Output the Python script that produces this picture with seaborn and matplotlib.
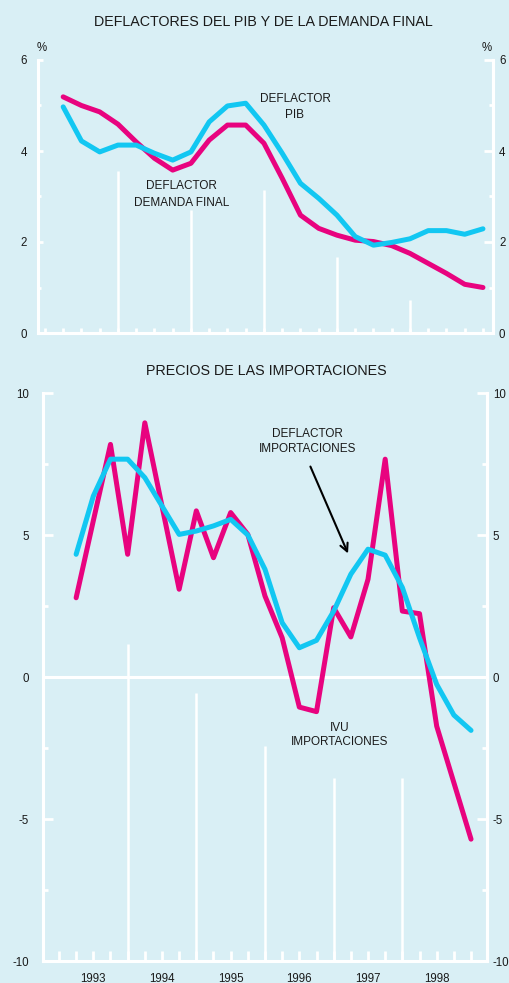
import numpy as np
import pandas as pd
import matplotlib.pyplot as plt
import seaborn as sns

# Datos trimestrales 1993-1998 (tasas de variacion, %)
years = ['1993', '1994', '1995', '1996', '1997', '1998']
quarters = list(range(1, 25))

deflactor_demanda_final = [5.19, 5.00, 4.86, 4.59, 4.20, 3.84, 3.58, 3.73, 4.24, 4.57, 4.57, 4.17,
                           3.40, 2.59, 2.30, 2.15, 2.04, 2.01, 1.92, 1.75, 1.53, 1.31, 1.07, 1.00]
deflactor_pib = [4.97, 4.22, 3.98, 4.13, 4.13, 3.95, 3.80, 3.98, 4.64, 4.99, 5.05, 4.57,
                 3.95, 3.29, 2.96, 2.59, 2.12, 1.93, 1.99, 2.07, 2.25, 2.25, 2.17, 2.29]

ivu_importaciones = [2.79, 5.50, 8.19, 4.32, 8.95, 6.02, 3.09, 5.85, 4.20, 5.79, 5.02, 2.85,
                     1.38, -1.06, -1.22, 2.44, 1.41, 3.44, 7.67, 2.32, 2.23, -1.73, -3.72, -5.71]
deflactor_importaciones = [4.32, 6.37, 7.67, 7.67, 7.02, 6.02, 5.02, 5.14, 5.32, 5.55, 5.00, 3.79,
                           1.91, 1.03, 1.29, 2.32, 3.62, 4.50, 4.29, 3.15, 1.38, -0.26, -1.34, -1.88]

# separadores de año (lineas blancas verticales, hasta donde llegan)
year_breaks = [4, 8, 12, 16, 20]
top_break_heights = [3.55, 2.70, 3.14, 1.67, 0.73]
bottom_break_heights = [1.16, -0.56, -2.43, -3.56, -3.56]

BG = '#d9eff5'
PINK = '#e8037f'
CYAN = '#12c7f2'
TXT = '#1a1a1a'
W, H = 509, 983

sns.set_style('white', {'axes.facecolor': BG, 'figure.facecolor': BG})
plt.rcParams['font.family'] = ['Liberation Sans', 'DejaVu Sans']
plt.rcParams['axes.unicode_minus'] = False

fig = plt.figure(figsize=(W / 100, H / 100), dpi=100)
ax1 = fig.add_axes([38 / W, 1 - 333 / H, 455 / W, 273 / H])
ax2 = fig.add_axes([43 / W, 1 - 961 / H, 444 / W, 568 / H])

df_top = pd.DataFrame({'q': quarters, 'dfin': deflactor_demanda_final, 'pib': deflactor_pib})
df_bot = pd.DataFrame({'q': quarters, 'ivu': ivu_importaciones, 'defl': deflactor_importaciones})

lw = 3.6
sns.lineplot(data=df_top, x='q', y='dfin', ax=ax1, color=PINK, linewidth=lw)
sns.lineplot(data=df_top, x='q', y='pib', ax=ax1, color=CYAN, linewidth=lw)
sns.lineplot(data=df_bot, x='q', y='ivu', ax=ax2, color=PINK, linewidth=lw)
sns.lineplot(data=df_bot, x='q', y='defl', ax=ax2, color=CYAN, linewidth=lw)


def style_axis(ax, ylim, xlim, major, minor, tick_len_x, left_len, right_len, lpad, rpad):
    ax.set_ylim(*ylim)
    ax.set_xlim(*xlim)
    ax.set_xlabel('')
    ax.set_ylabel('')
    for s in ['left', 'right', 'bottom']:
        ax.spines[s].set_visible(True)
        ax.spines[s].set_color('white')
        ax.spines[s].set_linewidth(2.2)
    ax.spines['top'].set_visible(False)
    ax.set_yticks(major)
    ax.set_yticks(minor, minor=True)
    ax.tick_params(axis='y', which='major', direction='in', color='white', width=2,
                   length=left_len[0], pad=lpad, labelsize=8.3, labelcolor=TXT, left=True)
    ax.tick_params(axis='y', which='minor', direction='in', color='white', width=2,
                   length=left_len[1], left=True)
    ax.set_xticks(range(0, 25))
    ax.tick_params(axis='x', which='major', direction='in', color='white', width=2,
                   length=tick_len_x, bottom=True, labelsize=8.3, labelcolor=TXT, pad=8.6)
    sec = ax.secondary_yaxis('right')
    sec.spines['right'].set_color('white')
    sec.spines['right'].set_linewidth(2.2)
    sec.set_yticks(major)
    sec.set_yticks(minor, minor=True)
    sec.tick_params(axis='y', which='major', direction='in', color='white', width=2,
                    length=right_len[0], pad=rpad, labelsize=8.3, labelcolor=TXT)
    sec.tick_params(axis='y', which='minor', direction='in', color='white', width=2,
                    length=right_len[1])
    ax.grid(False)


style_axis(ax1, (0, 6), (-0.38, 24.55), [0, 2, 4, 6], [1, 3, 5], 3.6, (3.6, 2.2), (6.5, 3.2), 8, 4.3)
style_axis(ax2, (-10, 10), (-0.93, 24.93), [-10, -5, 0, 5, 10], [-7.5, -2.5, 2.5, 7.5], 7.2,
           (7.2, 3.6), (7.2, 3.6), 10, 4.3)

ax1.set_xticklabels([''] * 25)
xlabels = [''] * 25
for i, y in enumerate(years):
    xlabels[2 + 4 * i] = y
ax2.set_xticklabels(xlabels)

ax1.vlines(year_breaks, 0, top_break_heights, color='white', linewidth=1.8, zorder=1)
ax2.vlines(year_breaks, -10, bottom_break_heights, color='white', linewidth=1.8, zorder=1)
ax2.axhline(0, color='white', linewidth=2.2, zorder=1)

# titulos
fig.text(263.5 / W, 1 - 22.5 / H, 'DEFLACTORES DEL PIB Y DE LA DEMANDA FINAL',
         ha='center', va='center', fontsize=10.3, color=TXT)
fig.text(266 / W, 1 - 371 / H, 'PRECIOS DE LAS IMPORTACIONES',
         ha='center', va='center', fontsize=10.3, color=TXT)
fig.text(42 / W, 1 - 48 / H, '%', ha='center', va='center', fontsize=8.3, color=TXT)
fig.text(487 / W, 1 - 48 / H, '%', ha='center', va='center', fontsize=8.3, color=TXT)

# etiquetas de series
ax1.text(13.7, 4.97, 'DEFLACTOR\nPIB', ha='center', va='center', fontsize=8.5,
         color=TXT, linespacing=1.5)
ax1.text(7.5, 3.04, 'DEFLACTOR\nDEMANDA FINAL', ha='center', va='center', fontsize=8.5,
         color=TXT, linespacing=1.5)
ax2.text(14.47, 8.29, 'DEFLACTOR\nIMPORTACIONES', ha='center', va='center', fontsize=8.5,
         color=TXT, linespacing=1.4)
ax2.text(16.33, -2.04, 'IVU\nIMPORTACIONES', ha='center', va='center', fontsize=8.5,
         color=TXT, linespacing=1.3)
ax2.annotate('', xy=(16.9, 4.26), xytext=(14.58, 7.5),
             arrowprops=dict(arrowstyle='->', color='black', lw=1.5, mutation_scale=14))

fig.savefig('out.png', dpi=100, facecolor=BG)
